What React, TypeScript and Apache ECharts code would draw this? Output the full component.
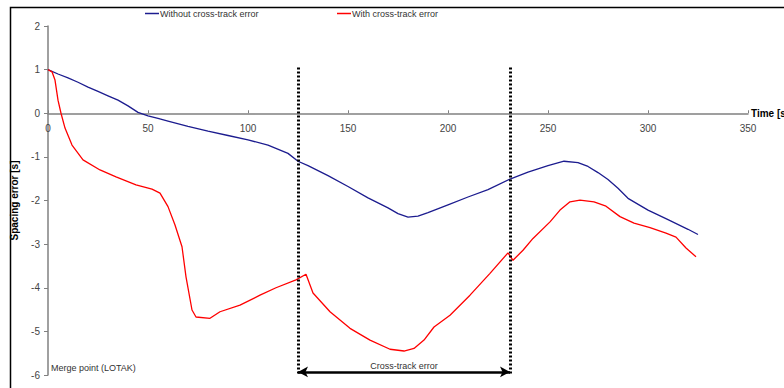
import React, { useEffect, useRef } from "react";
import * as echarts from "echarts";

const xTicks = [0, 50, 100, 150, 200, 250, 300, 350];
const yTicks = [-6, -5, -4, -3, -2, -1, 0, 1, 2];

const seriesNames = ["Without cross-track error", "With cross-track error"];

const withoutTime = [0, 5, 10, 15, 20, 25, 30, 35, 40, 45, 50, 55, 60, 70, 80, 90, 100, 110, 120, 125, 130, 140, 150, 160, 170, 175, 180, 185, 190, 200, 210, 220, 231, 240, 250, 258, 265, 270, 275, 280, 285, 290, 300, 310, 320, 325];
const withoutError = [1.0, 0.9, 0.81, 0.71, 0.6, 0.5, 0.4, 0.3, 0.17, 0.02, -0.06, -0.12, -0.18, -0.3, -0.41, -0.51, -0.61, -0.73, -0.92, -1.1, -1.2, -1.43, -1.68, -1.94, -2.17, -2.3, -2.38, -2.36, -2.28, -2.1, -1.92, -1.75, -1.51, -1.35, -1.2, -1.1, -1.13, -1.22, -1.36, -1.52, -1.72, -1.95, -2.22, -2.44, -2.66, -2.78];

const withTime = [0, 2, 3.5, 5, 6.5, 8.5, 12, 17.5, 26, 34, 44, 52, 56, 60, 63.5, 67, 69, 72, 74, 81, 86, 96, 106, 114, 124, 129, 132.5, 141, 151, 161, 171, 178, 183, 188, 193, 201, 211, 221, 230, 232.5, 237.5, 242.5, 251, 256, 261, 266, 273, 279, 286, 293, 301, 309, 314, 319, 324];
const withError = [1.0, 0.95, 0.76, 0.3, 0.0, -0.34, -0.73, -1.07, -1.3, -1.46, -1.64, -1.74, -1.83, -2.14, -2.56, -3.06, -3.75, -4.51, -4.67, -4.7, -4.55, -4.4, -4.17, -4.0, -3.82, -3.69, -4.12, -4.55, -4.93, -5.2, -5.41, -5.45, -5.39, -5.2, -4.9, -4.63, -4.17, -3.67, -3.2, -3.37, -3.14, -2.87, -2.49, -2.22, -2.03, -1.99, -2.03, -2.13, -2.37, -2.52, -2.62, -2.75, -2.84, -3.09, -3.29];

const crossTrackStart = 125;
const crossTrackEnd = 231;
const markerTop = 1.05;
const arrowLevel = -5.93;

const FONT = "'Liberation Sans', Arial, sans-serif";

export default function App() {
  const ref = useRef<HTMLDivElement>(null);
  useEffect(() => {
    if (!ref.current) return;
    const chart = echarts.init(ref.current, null, { renderer: "svg" });
    const zip = (xs: number[], ys: number[]) => xs.map((x, i) => [x, ys[i]]);
    const dotted = { color: "#000", width: 3, type: [2, 2] as any };
    const legendBase = {
      top: 9,
      padding: 0,
      icon: "rect",
      itemWidth: 14,
      itemHeight: 1.5,
      textStyle: { fontSize: 9, color: "#333", fontFamily: FONT, padding: [0, 0, 0, -4] },
    };
    chart.setOption({
      animation: false,
      textStyle: { fontFamily: FONT },
      grid: { left: 48, right: 36, top: 26, bottom: 13, containLabel: false, outerBoundsMode: "none" },
      legend: [
        { ...legendBase, data: [seriesNames[0]], left: 145 },
        { ...legendBase, data: [seriesNames[1]], left: 337 },
      ],
      xAxis: {
        type: "value",
        min: xTicks[0],
        max: xTicks[xTicks.length - 1],
        interval: 50,
        name: "Time [s]",
        nameLocation: "end",
        nameGap: 3,
        nameTextStyle: { fontSize: 10, fontWeight: "bold", color: "#000", fontFamily: FONT },
        axisLine: { onZero: true, lineStyle: { color: "#808080", width: 1.5 } },
        axisTick: { show: true, inside: true, length: 3, lineStyle: { color: "#808080" } },
        axisLabel: { fontSize: 10, color: "#444", margin: -252, fontFamily: FONT },
        splitLine: { show: false },
      },
      yAxis: {
        type: "value",
        min: yTicks[0],
        max: yTicks[yTicks.length - 1],
        interval: 1,
        name: "Spacing error [s]",
        nameLocation: "middle",
        nameGap: 29,
        nameRotate: 90,
        nameTextStyle: { fontSize: 10, fontWeight: "bold", color: "#000", fontFamily: FONT },
        axisLine: { show: true, lineStyle: { color: "#808080", width: 1.5 } },
        axisTick: { show: true, length: 4, lineStyle: { color: "#808080" } },
        axisLabel: { fontSize: 10, color: "#444", margin: 8, fontFamily: FONT },
        splitLine: { show: false },
      },
      series: [
        {
          name: seriesNames[0],
          type: "line",
          data: zip(withoutTime, withoutError),
          showSymbol: false,
          lineStyle: { color: "#1c1c8f", width: 1.3 },
          itemStyle: { color: "#1c1c8f" },
          markLine: {
            silent: true,
            symbol: ["none", "none"],
            lineStyle: dotted,
            label: { show: false },
            data: [
              [{ coord: [crossTrackStart, markerTop] }, { coord: [crossTrackStart, yTicks[0]] }],
              [{ coord: [crossTrackEnd, markerTop] }, { coord: [crossTrackEnd, yTicks[0]] }],
            ],
          },
        },
        {
          name: seriesNames[1],
          type: "line",
          data: zip(withTime, withError),
          showSymbol: false,
          lineStyle: { color: "#ff0000", width: 1.3 },
          itemStyle: { color: "#ff0000" },
          markLine: {
            silent: true,
            symbol: ["arrow", "arrow"],
            symbolSize: [8, 10],
            lineStyle: { color: "#000", width: 2.5, type: "solid" },
            label: {
              show: true,
              position: "middle",
              formatter: "Cross-track error",
              fontSize: 9,
              color: "#333",
              distance: 1,
              fontFamily: FONT,
            },
            data: [[{ coord: [crossTrackStart, arrowLevel] }, { coord: [crossTrackEnd, arrowLevel] }]],
          },
        },
      ],
      graphic: [
        {
          type: "rect",
          left: 8,
          top: 5,
          silent: true,
          shape: { width: 800, height: 400 },
          style: { fill: "none", stroke: "#000", lineWidth: 1.5 },
        },
        {
          type: "text",
          left: 51,
          top: 363,
          style: { text: "Merge point (LOTAK)", fontSize: 9, fill: "#333", fontFamily: FONT },
        },
      ],
    });
    return () => chart.dispose();
  }, []);
  return (
    <div
      ref={ref}
      style={{ position: "absolute", left: 0, top: 0, width: 784, height: 388, background: "#fff" }}
    />
  );
}
